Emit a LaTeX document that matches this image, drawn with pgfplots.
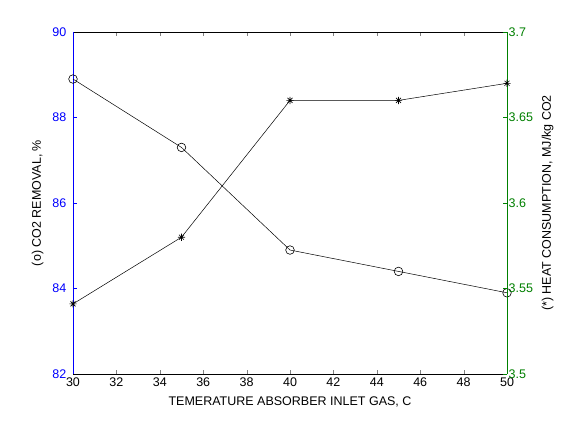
\documentclass[border=0pt]{standalone}
\usepackage{pgfplots}
\pgfplotsset{compat=1.18}
\usepackage{fontspec}
\setmainfont{Liberation Sans}
\definecolor{mblue}{rgb}{0,0,1}
\definecolor{mgreen}{rgb}{0,0.5,0}
\pgfdeclareplotmark{mstar}{%
  \pgfpathmoveto{\pgfqpoint{-\pgfplotmarksize}{0pt}}\pgfpathlineto{\pgfqpoint{\pgfplotmarksize}{0pt}}%
  \pgfpathmoveto{\pgfqpoint{0pt}{-\pgfplotmarksize}}\pgfpathlineto{\pgfqpoint{0pt}{\pgfplotmarksize}}%
  \pgfpathmoveto{\pgfqpoint{-0.7\pgfplotmarksize}{-0.7\pgfplotmarksize}}\pgfpathlineto{\pgfqpoint{0.7\pgfplotmarksize}{0.7\pgfplotmarksize}}%
  \pgfpathmoveto{\pgfqpoint{-0.7\pgfplotmarksize}{0.7\pgfplotmarksize}}\pgfpathlineto{\pgfqpoint{0.7\pgfplotmarksize}{-0.7\pgfplotmarksize}}%
  \pgfusepathqstroke}
\begin{document}
\begin{tikzpicture}[font=\fontsize{12.5}{14}\selectfont]
\path[use as bounding box, fill=white] (0,0) rectangle (561pt,421pt);
\pgfplotsset{
  common/.style={
    scale only axis, width=434pt, height=342pt,
    at={(73pt,47pt)}, anchor=south west,
    xmin=30, xmax=50, xtick={30,32,...,50},
    tick align=inside, major tick length=4pt,
    clip=false,
    /pgf/number format/assume math mode=true,
    every tick label/.append style={font=\fontsize{12.5}{14}\selectfont},
    line width=0.6pt,
  }
}
\begin{axis}[common,
  axis x line*=box, axis y line*=left,
  xtick pos=both,
  ymin=82, ymax=90, ytick={82,84,...,90},
  y axis line style={mblue},
  ytick style={mblue},
  yticklabel style={mblue, xshift=-3pt},
  xlabel={TEMERATURE ABSORBER INLET GAS, C},
  ylabel={(o) CO2 REMOVAL, \%},
  xlabel style={yshift=-3pt},
  ylabel style={yshift=2pt},
]
\addplot[black, line width=0.5pt, mark=o, mark size=4.3pt, mark options={line width=0.6pt}]
  coordinates {(30,88.9) (35,87.3) (40,84.9) (45,84.4) (50,83.9)};
\end{axis}
\begin{axis}[common,
  axis x line=none, axis y line*=right,
  ymin=3.5, ymax=3.7, ytick={3.5,3.55,3.6,3.65,3.7},
  yticklabels={3.5,3.55,3.6,3.65,3.7},
  y axis line style={mgreen},
  ytick style={mgreen},
  yticklabel style={mgreen, xshift=-2pt},
  ylabel={(*) HEAT CONSUMPTION, MJ/kg CO2},
  ylabel style={yshift=-2pt},
]
\addplot[black, line width=0.5pt, mark=mstar, mark size=3.6pt, mark options={line width=0.6pt}]
  coordinates {(30,3.541) (35,3.58) (40,3.66) (45,3.66) (50,3.67)};
\end{axis}
\end{tikzpicture}
\end{document}
